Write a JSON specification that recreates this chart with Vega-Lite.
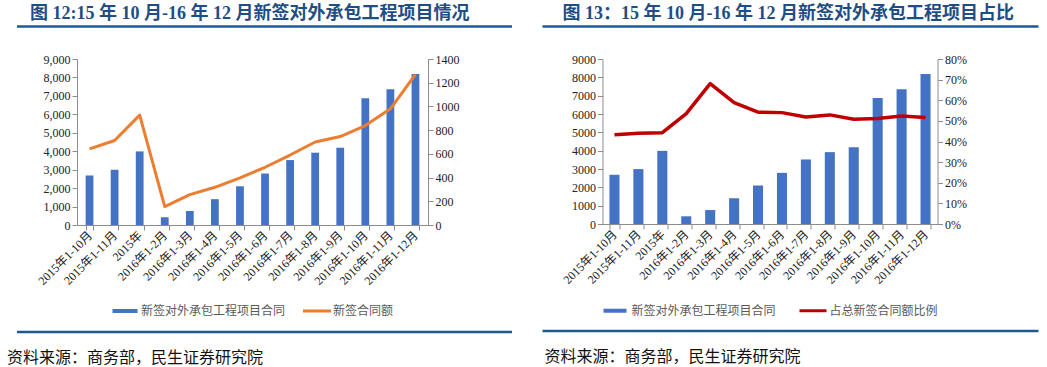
{
  "$schema": "https://vega.github.io/schema/vega-lite/v6.json",
  "padding": {"left": 7, "top": 4, "right": 0, "bottom": 0},
  "background": "white",
  "config": {
    "view": {"stroke": null},
    "axis": {"grid": false, "domainColor": "#8c8c8c", "tickColor": "#8c8c8c", "labelColor": "#222222", "labelFont": "Liberation Serif, Noto Sans CJK SC", "labelFontSize": 12, "tickSize": 5, "domainWidth": 1, "tickWidth": 1}
  },
  "datasets": {
    "d": [
      {"period": "2015年1-10月", "contracts": 2685, "amount": 642, "ratio": 0.433},
      {"period": "2015年1-11月", "contracts": 2995, "amount": 713, "ratio": 0.440},
      {"period": "2015年", "contracts": 3990, "amount": 927, "ratio": 0.443},
      {"period": "2016年1-2月", "contracts": 420, "amount": 155, "ratio": 0.535},
      {"period": "2016年1-3月", "contracts": 760, "amount": 256, "ratio": 0.681},
      {"period": "2016年1-4月", "contracts": 1400, "amount": 318, "ratio": 0.589},
      {"period": "2016年1-5月", "contracts": 2100, "amount": 397, "ratio": 0.542},
      {"period": "2016年1-6月", "contracts": 2790, "amount": 487, "ratio": 0.540},
      {"period": "2016年1-7月", "contracts": 3520, "amount": 590, "ratio": 0.519},
      {"period": "2016年1-8月", "contracts": 3920, "amount": 700, "ratio": 0.529},
      {"period": "2016年1-9月", "contracts": 4190, "amount": 746, "ratio": 0.508},
      {"period": "2016年1-10月", "contracts": 6870, "amount": 839, "ratio": 0.512},
      {"period": "2016年1-11月", "contracts": 7355, "amount": 980, "ratio": 0.524},
      {"period": "2016年1-12月", "contracts": 8182, "amount": 1270, "ratio": 0.516}
    ]
  },
  "resolve": {"scale": {"color": "independent"}, "legend": {"color": "independent"}},
  "spacing": 26.5,
  "hconcat": [
    {
      "spacing": 10,
      "vconcat": [
        {
          "width": 351, "height": 33,
          "data": {"values": [{"t": "图 12:15 年 10 月-16 年 12 月新签对外承包工程项目情况"}]},
          "layer": [
            {"mark": {"type": "rule", "color": "#1b5a93", "strokeWidth": 2.5},
             "encoding": {"x": {"datum": 0, "type": "quantitative", "scale": {"domain": [0, 1], "range": [-60, 435], "nice": false, "zero": false}, "axis": null}, "x2": {"datum": 1}}},
            {"mark": {"type": "text", "align": "left", "baseline": "middle", "dx": 13, "dy": -13, "font": "Liberation Serif, Noto Sans CJK SC", "fontSize": 18, "fontWeight": "bold", "color": "#1f4e85"},
             "encoding": {"x": {"datum": 0, "type": "quantitative"}, "text": {"field": "t"}}}
          ]
        },
        {
          "width": 351, "height": 166,
          "data": {"name": "d"},
          "encoding": {"x": {"field": "period", "type": "nominal", "sort": null, "scale": {"paddingInner": 0.69, "paddingOuter": 0.345}, "axis": {"title": null, "labelAngle": -45, "labelAlign": "right", "labelBaseline": "middle", "labelPadding": 3, "tickBand": "extent"}}},
          "layer": [
            {"mark": {"type": "bar"},
             "encoding": {
               "y": {"field": "contracts", "type": "quantitative", "scale": {"domain": [0, 9000], "nice": false}, "axis": {"values": [0, 1000, 2000, 3000, 4000, 5000, 6000, 7000, 8000, 9000], "format": ",d", "title": null}},
               "color": {"datum": "新签对外承包工程项目合同", "type": "nominal", "scale": {"domain": ["新签对外承包工程项目合同", "新签合同额"], "range": ["#4472C4", "#ED7D31"]},
                 "legend": {"orient": "none", "legendX": 34, "legendY": 287, "direction": "horizontal", "columns": 2, "title": null, "symbolSize": 784, "symbolStrokeWidth": 0, "labelFont": "Noto Sans CJK SC", "labelFontSize": 12, "labelColor": "#595959", "labelOffset": 2, "columnPadding": 17, "padding": 0,
                   "encode": {"symbols": {"update": {"shape": {"signal": "datum.value === '新签合同额' ? 'M-1,-0.107H1V0.107H-1Z' : 'M-0.893,-0.143H0.893V0.143H-0.893Z'"}, "fill": {"signal": "datum.value === '新签合同额' ? '#ED7D31' : '#4472C4'"}, "fillOpacity": {"value": 1}, "stroke": {"value": "transparent"}}}}}}
             }},
            {"mark": {"type": "line", "strokeWidth": 3, "strokeJoin": "round"},
             "encoding": {
               "y": {"field": "amount", "type": "quantitative", "scale": {"domain": [0, 1400], "nice": false}, "axis": {"orient": "right", "values": [0, 200, 400, 600, 800, 1000, 1200, 1400], "format": "d", "title": null}},
               "color": {"datum": "新签合同额", "type": "nominal"}
             }}
          ],
          "resolve": {"scale": {"y": "independent"}}
        },
        {
          "width": 351, "height": 70,
          "data": {"values": [{"t": "资料来源：商务部，民生证券研究院"}]},
          "layer": [
            {"mark": {"type": "rule", "color": "#1b5a93", "strokeWidth": 2.5},
             "encoding": {"x": {"datum": 0, "type": "quantitative", "scale": {"domain": [0, 1], "range": [-60, 435], "nice": false, "zero": false}, "axis": null}, "x2": {"datum": 1}}},
            {"mark": {"type": "text", "align": "left", "baseline": "middle", "dx": -10, "dy": 26, "font": "Noto Sans CJK SC", "fontSize": 16, "color": "#111111"},
             "encoding": {"x": {"datum": 0, "type": "quantitative"}, "text": {"field": "t"}}}
          ]
        }
      ]
    },
    {
      "spacing": 10,
      "vconcat": [
        {
          "width": 335, "height": 33,
          "data": {"values": [{"t": "图 13：15 年 10 月-16 年 12 月新签对外承包工程项目占比"}]},
          "layer": [
            {"mark": {"type": "rule", "color": "#1b5a93", "strokeWidth": 2.5},
             "encoding": {"x": {"datum": 0, "type": "quantitative", "scale": {"domain": [0, 1], "range": [-60, 436], "nice": false, "zero": false}, "axis": null}, "x2": {"datum": 1}}},
            {"mark": {"type": "text", "align": "left", "baseline": "middle", "dx": 20, "dy": -13, "font": "Liberation Serif, Noto Sans CJK SC", "fontSize": 18, "fontWeight": "bold", "color": "#1f4e85"},
             "encoding": {"x": {"datum": 0, "type": "quantitative"}, "text": {"field": "t"}}}
          ]
        },
        {
          "width": 335, "height": 165,
          "data": {"name": "d"},
          "encoding": {"x": {"field": "period", "type": "nominal", "sort": null, "scale": {"paddingInner": 0.58, "paddingOuter": 0.29}, "axis": {"title": null, "labelAngle": -45, "labelAlign": "right", "labelBaseline": "middle", "labelPadding": 3, "tickBand": "extent"}}},
          "layer": [
            {"mark": {"type": "bar"},
             "encoding": {
               "y": {"field": "contracts", "type": "quantitative", "scale": {"domain": [0, 9000], "nice": false}, "axis": {"values": [0, 1000, 2000, 3000, 4000, 5000, 6000, 7000, 8000, 9000], "format": "d", "title": null}},
               "color": {"datum": "新签对外承包工程项目合同", "type": "nominal", "scale": {"domain": ["新签对外承包工程项目合同", "占总新签合同额比例"], "range": ["#4472C4", "#C00000"]},
                 "legend": {"orient": "none", "legendX": -1, "legendY": 287, "direction": "horizontal", "columns": 2, "title": null, "symbolSize": 729, "symbolStrokeWidth": 0, "labelFont": "Noto Sans CJK SC", "labelFontSize": 12, "labelColor": "#595959", "labelOffset": 3, "columnPadding": 23, "padding": 0,
                   "encode": {"symbols": {"update": {"shape": {"signal": "datum.value === '占总新签合同额比例' ? 'M-1,-0.11H1V0.11H-1Z' : 'M-0.852,-0.148H0.852V0.148H-0.852Z'"}, "fill": {"signal": "datum.value === '占总新签合同额比例' ? '#C00000' : '#4472C4'"}, "fillOpacity": {"value": 1}, "stroke": {"value": "transparent"}}}}}}
             }},
            {"mark": {"type": "line", "strokeWidth": 3.5, "strokeJoin": "round"},
             "encoding": {
               "y": {"field": "ratio", "type": "quantitative", "scale": {"domain": [0, 0.8], "nice": false}, "axis": {"orient": "right", "values": [0, 0.1, 0.2, 0.3, 0.4, 0.5, 0.6, 0.7, 0.8], "format": ".0%", "title": null}},
               "color": {"datum": "占总新签合同额比例", "type": "nominal"}
             }}
          ],
          "resolve": {"scale": {"y": "independent"}}
        },
        {
          "width": 335, "height": 70,
          "data": {"values": [{"t": "资料来源：商务部，民生证券研究院"}]},
          "layer": [
            {"mark": {"type": "rule", "color": "#1b5a93", "strokeWidth": 2.5},
             "encoding": {"x": {"datum": 0, "type": "quantitative", "scale": {"domain": [0, 1], "range": [-60, 436], "nice": false, "zero": false}, "axis": null}, "x2": {"datum": 1}}},
            {"mark": {"type": "text", "align": "left", "baseline": "middle", "dx": 2, "dy": 26, "font": "Noto Sans CJK SC", "fontSize": 16, "color": "#111111"},
             "encoding": {"x": {"datum": 0, "type": "quantitative"}, "text": {"field": "t"}}}
          ]
        }
      ]
    }
  ]
}
